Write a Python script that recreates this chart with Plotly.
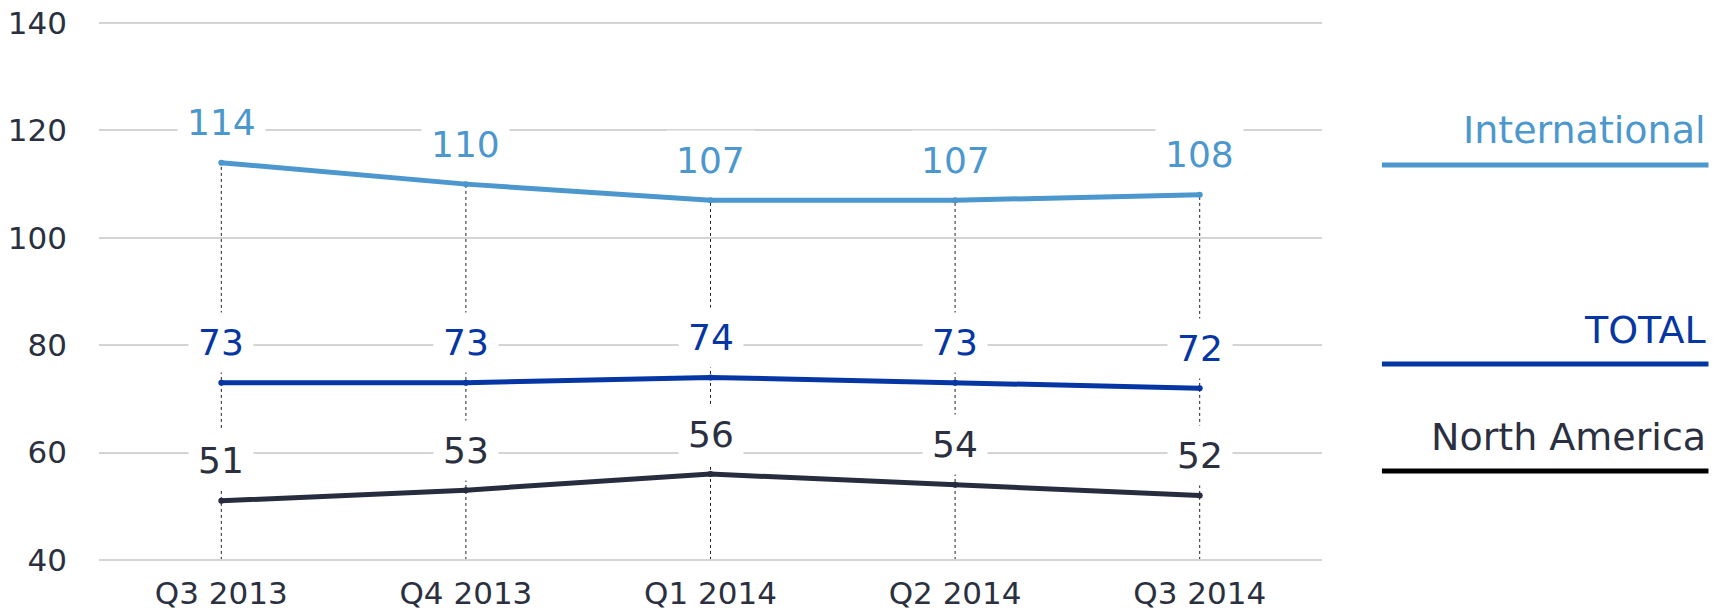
import plotly.graph_objects as go

categories = ["Q3 2013", "Q4 2013", "Q1 2014", "Q2 2014", "Q3 2014"]
international = [114, 110, 107, 107, 108]
total = [73, 73, 74, 73, 72]
north_america = [51, 53, 56, 54, 52]

series_names = ["International", "TOTAL", "North America"]
series_values = [international, total, north_america]
line_colors = ["#4B97CE", "#0536A3", "#272C3F"]
label_colors = ["#4B97CE", "#0536A3", "#2B3040"]
legend_swatch_colors = ["#4B97CE", "#0536A3", "#000000"]

y_ticks = [40, 60, 80, 100, 120, 140]
FONT = "DejaVu Sans"

fig = go.Figure()

xs = list(range(len(categories)))

# dotted vertical guide lines from axis bottom to top series value
for i, v in enumerate(international):
    fig.add_shape(type="line", xref="x", yref="y", x0=i, x1=i, y0=40, y1=v,
                  line=dict(color="#222222", width=1, dash="dot"), layer="below")

for name, vals, col in zip(series_names, series_values, line_colors):
    fig.add_trace(go.Scatter(x=xs, y=vals, mode="lines+markers", name=name,
                             line=dict(color=col, width=5),
                             marker=dict(color=col, size=6),
                             showlegend=False, hoverinfo="skip"))

# data labels
for vals, col in zip(series_values, label_colors):
    for i, v in enumerate(vals):
        fig.add_annotation(x=i, y=v, xref="x", yref="y", text=str(v),
                           showarrow=False, yshift=40, bgcolor="white",
                           borderpad=9,
                           font=dict(family=FONT, size=36, color=col))

# custom legend on the right
legend_line_y = [0.7347, 0.3655, 0.167]
legend_text_y = [0.7996, 0.4286, 0.230]
for name, col, tcol, ly, ty in zip(series_names, legend_swatch_colors, label_colors,
                                   legend_line_y, legend_text_y):
    fig.add_shape(type="line", xref="paper", yref="paper", x0=1.049, x1=1.316,
                  y0=ly, y1=ly, line=dict(color=col, width=5))
    fig.add_annotation(x=1.316, y=ty, xref="paper", yref="paper", text=name,
                       showarrow=False, xanchor="right", yanchor="middle",
                       font=dict(family=FONT, size=38, color=tcol))

fig.update_layout(
    width=1725, height=611,
    margin=dict(l=91, r=411, t=14, b=58),
    plot_bgcolor="white", paper_bgcolor="white",
    font=dict(family=FONT, color="#2B3040"),
)
fig.update_xaxes(range=[-0.5, 4.5], tickvals=xs, ticktext=categories,
                 showgrid=False, zeroline=False, showline=False, automargin=False,
                 tickfont=dict(family=FONT, size=31, color="#2B3040"),
                 ticks="", ticklabelstandoff=11, ticklabeloverflow="allow")
fig.update_yaxes(range=[39.8, 140.2], tickvals=y_ticks, showgrid=True,
                 gridcolor="#D4D4D4", gridwidth=1.5, zeroline=False, showline=False,
                 automargin=False,
                 tickfont=dict(family=FONT, size=31, color="#2B3040"),
                 ticks="", ticklabelstandoff=31, ticklabeloverflow="allow")

fig.write_html("out.html")
